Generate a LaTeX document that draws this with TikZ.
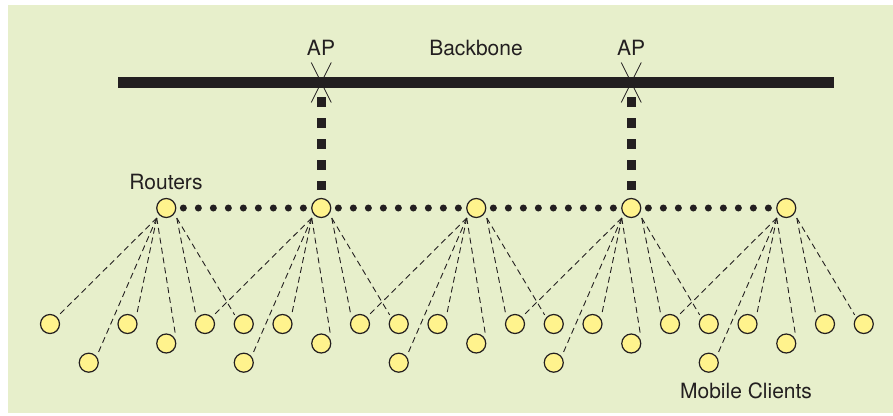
\documentclass[tikz,border=0pt]{standalone}
\usepackage{fontspec}
\setmainfont{TeX Gyre Heros}
\usepackage{tikz}

\definecolor{panelgreen}{HTML}{E7EFCB}
\definecolor{nodeyellow}{HTML}{FFF38D}
\definecolor{inkdark}{HTML}{231F20}

\begin{document}
\begin{tikzpicture}[x=1pt,y=-1pt,
    router/.style={circle, draw=inkdark, line width=1.2pt, fill=nodeyellow, minimum size=19pt, inner sep=0pt},
    client/.style={router},
    backbone/.style={inkdark, line width=10.5pt},
    uplink/.style={inkdark, line width=9.5pt, dash pattern=on 9.5pt off 11.5pt},
    mesh/.style={inkdark, line width=7pt, line cap=round, dash pattern=on 0pt off 15pt},
    link/.style={inkdark, line width=0.9pt, dash pattern=on 6pt off 4pt},
    cross/.style={inkdark, line width=0.8pt},
    caption/.style={text=inkdark, font=\fontsize{21}{24}\selectfont, anchor=base, inner sep=0pt}]

        % Background panel
        \useasboundingbox (0,0) rectangle (893,415);
        \fill[white] (0,0) rectangle (893,415);
        \fill[panelgreen] (8,5) rectangle (893,413);

        % Draw the backbone
        \coordinate (bbw) at (118,82.5);
        \coordinate (bbe) at (834,82.5);
        \draw[backbone] (bbw) -- (bbe);

        % Access points on the backbone
        \coordinate (ap1) at (321.25,82.5);
        \coordinate (ap2) at (631.25,82.5);
        \foreach \p in {ap1,ap2} {
            \draw[cross] ([shift={(-10,-20)}]\p) -- ([shift={(10,20)}]\p);
            \draw[cross] ([shift={(10,-20)}]\p) -- ([shift={(-10,20)}]\p);
        }

        % Labels
        \node[caption] (aplab1) at (321,55) {AP};
        \node[caption] (aplab2) at (631,55) {AP};
        \node[caption] (bblab) at (476,55) {Backbone};
        \node[caption] (rtlab) at (166,189) {Routers};
        \node[caption] (mclab) at (746,398) {Mobile Clients};

        % Routers, with the two points the client links leave from
        \foreach \i in {0,...,4} {
            \node[router] (r\i) at ({166.25+155*\i},208) {};
            \coordinate (rl\i) at ([shift={(-9.5,10)}]r\i.center);
            \coordinate (rr\i) at ([shift={(10.5,10)}]r\i.center);
        }

        % Mobile clients, three rows
        \foreach \k in {0,2,4,5,6,8,9,10,12,13,14,16,17,18,20,21}
            \node[client] (ca\k) at ({50+38.75*\k},324) {};
        \foreach \k in {3,7,11,15,19}
            \node[client] (cb\k) at ({50+38.75*\k},343.5) {};
        \foreach \k in {1,5,9,13,17}
            \node[client] (cc\k) at ({50+38.75*\k},362.7) {};

        % Uplinks from the APs
        \draw[uplink, shorten <=14.5pt, shorten >=8pt] (ap1) -- (r1);
        \draw[uplink, shorten <=14.5pt, shorten >=8pt] (ap2) -- (r3);

        % Router mesh
        \foreach \i [evaluate=\i as \j using {int(\i+1)}] in {0,...,3}
            \draw[mesh, shorten <=7pt, shorten >=6.5pt] (r\i) -- (r\j);

        % Wireless links to the clients
        \foreach \i [evaluate=\i as \a using {int(4*\i)},
                     evaluate=\i as \b using {int(4*\i+1)},
                     evaluate=\i as \c using {int(4*\i+2)},
                     evaluate=\i as \d using {int(4*\i+3)},
                     evaluate=\i as \e using {int(4*\i+4)},
                     evaluate=\i as \f using {int(4*\i+5)}] in {0,...,4} {
            \draw[link] (rl\i) -- ([shift={(2,-2)}]ca\a.north east);
            \draw[link] (rl\i) -- ([shift={(2,-2)}]cc\b.north east);
            \draw[link] (rl\i) -- ([shift={(2,-2)}]ca\c.north east);
            \draw[link] (rl\i) -- ([shift={(2,-2)}]cb\d.north east);
            \draw[link] (rr\i) -- ([shift={(-2,-2)}]ca\e.north west);
            \draw[link] (rr\i) -- ([shift={(-2,-2)}]ca\f.north west);
        }
\end{tikzpicture}
\end{document}
